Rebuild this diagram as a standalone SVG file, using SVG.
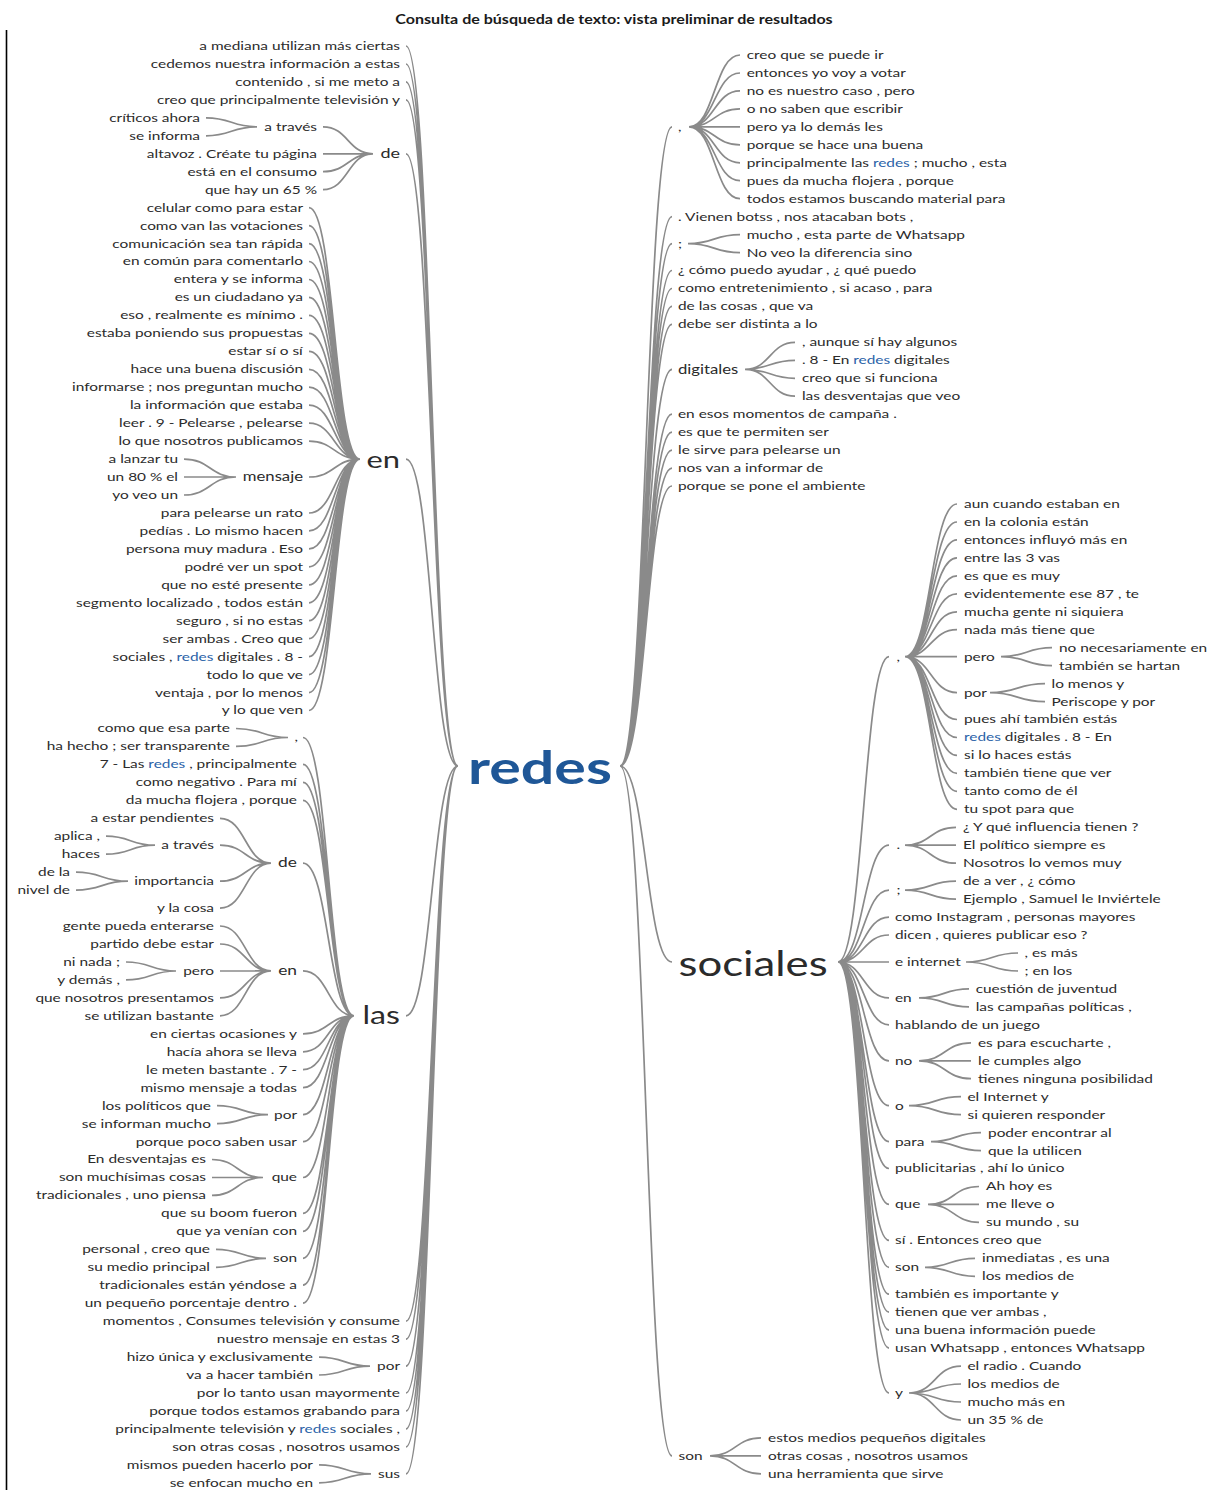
<svg xmlns="http://www.w3.org/2000/svg" width="1217" height="1490" viewBox="0 0 1217 1490">
<style>
.t{font-family:Lato,'Liberation Sans',sans-serif;font-size:12px;fill:#2b2b2b;transform-box:fill-box;transform:scaleX(1.285)}
.l{text-anchor:end;transform-origin:100% 50%}
.r{transform-origin:0% 50%}
.h{fill:#2a62a8}
.c path{fill:none;stroke:#8a8a8a;stroke-width:1.7}
.ttl{font-weight:bold;font-size:12.5px;fill:#1a1a1a;text-anchor:middle;transform-origin:50% 50%}
</style>
<rect width="1217" height="1490" fill="#fff"/>
<line x1="6.5" y1="30" x2="6.5" y2="1490" stroke="#000" stroke-width="1.6"/>
<text class="t ttl" x="614" y="24">Consulta de búsqueda de texto: vista preliminar de resultados</text>
<g id="connectors" class="c">
<path d="M406 46C432 46 432 766 458 766M406 64C432 64 432 766 458 766M406 81.9C432 81.9 432 766 458 766M406 99.9C432 99.9 432 766 458 766M406 153.8C432 153.8 432 766 458 766M406 459.1C432 459.1 432 766 458 766M406 1015.8C432 1015.8 432 766 458 766M406 1321.2C432 1321.2 432 766 458 766M406 1339.1C432 1339.1 432 766 458 766M406 1366.1C432 1366.1 432 766 458 766M406 1393C432 1393 432 766 458 766M406 1411C432 1411 432 766 458 766M406 1428.9C432 1428.9 432 766 458 766M406 1446.9C432 1446.9 432 766 458 766M406 1473.8C432 1473.8 432 766 458 766"/>
<path d="M323 126.8C348 126.8 348 153.8 373 153.8M323 153.8L373 153.8M323 171.7C348 171.7 348 153.8 373 153.8M323 189.7C348 189.7 348 153.8 373 153.8M206 117.8C231.5 117.8 231.5 126.8 257 126.8M206 135.8C231.5 135.8 231.5 126.8 257 126.8"/>
<path d="M309 207.6C334.5 207.6 334.5 459.1 360 459.1M309 225.6C334.5 225.6 334.5 459.1 360 459.1M309 243.6C334.5 243.6 334.5 459.1 360 459.1M309 261.5C334.5 261.5 334.5 459.1 360 459.1M309 279.5C334.5 279.5 334.5 459.1 360 459.1M309 297.4C334.5 297.4 334.5 459.1 360 459.1M309 315.4C334.5 315.4 334.5 459.1 360 459.1M309 333.4C334.5 333.4 334.5 459.1 360 459.1M309 351.3C334.5 351.3 334.5 459.1 360 459.1M309 369.3C334.5 369.3 334.5 459.1 360 459.1M309 387.2C334.5 387.2 334.5 459.1 360 459.1M309 405.2C334.5 405.2 334.5 459.1 360 459.1M309 423.2C334.5 423.2 334.5 459.1 360 459.1M309 441.1C334.5 441.1 334.5 459.1 360 459.1M309 477C334.5 477 334.5 459.1 360 459.1M309 513C334.5 513 334.5 459.1 360 459.1M309 530.9C334.5 530.9 334.5 459.1 360 459.1M309 548.9C334.5 548.9 334.5 459.1 360 459.1M309 566.8C334.5 566.8 334.5 459.1 360 459.1M309 584.8C334.5 584.8 334.5 459.1 360 459.1M309 602.8C334.5 602.8 334.5 459.1 360 459.1M309 620.7C334.5 620.7 334.5 459.1 360 459.1M309 638.7C334.5 638.7 334.5 459.1 360 459.1M309 656.6C334.5 656.6 334.5 459.1 360 459.1M309 674.6C334.5 674.6 334.5 459.1 360 459.1M309 692.6C334.5 692.6 334.5 459.1 360 459.1M309 710.5C334.5 710.5 334.5 459.1 360 459.1"/>
<path d="M184 459.1C210 459.1 210 477 236 477M184 477L236 477M184 495C210 495 210 477 236 477"/>
<path d="M303 737.5C328.5 737.5 328.5 1015.8 354 1015.8M303 764.4C328.5 764.4 328.5 1015.8 354 1015.8M303 782.4C328.5 782.4 328.5 1015.8 354 1015.8M303 800.3C328.5 800.3 328.5 1015.8 354 1015.8M303 863.2C328.5 863.2 328.5 1015.8 354 1015.8M303 970.9C328.5 970.9 328.5 1015.8 354 1015.8M303 1033.8C328.5 1033.8 328.5 1015.8 354 1015.8M303 1051.8C328.5 1051.8 328.5 1015.8 354 1015.8M303 1069.7C328.5 1069.7 328.5 1015.8 354 1015.8M303 1087.7C328.5 1087.7 328.5 1015.8 354 1015.8M303 1114.6C328.5 1114.6 328.5 1015.8 354 1015.8M303 1141.6C328.5 1141.6 328.5 1015.8 354 1015.8M303 1177.5C328.5 1177.5 328.5 1015.8 354 1015.8M303 1213.4C328.5 1213.4 328.5 1015.8 354 1015.8M303 1231.4C328.5 1231.4 328.5 1015.8 354 1015.8M303 1258.3C328.5 1258.3 328.5 1015.8 354 1015.8M303 1285.2C328.5 1285.2 328.5 1015.8 354 1015.8M303 1303.2C328.5 1303.2 328.5 1015.8 354 1015.8"/>
<path d="M236 728.5C262 728.5 262 737.5 288 737.5M236 746.4C262 746.4 262 737.5 288 737.5"/>
<path d="M220 818.3C245.5 818.3 245.5 863.2 271 863.2M220 845.2C245.5 845.2 245.5 863.2 271 863.2M220 881.2C245.5 881.2 245.5 863.2 271 863.2M220 908.1C245.5 908.1 245.5 863.2 271 863.2"/>
<path d="M106 836.2C130.5 836.2 130.5 845.2 155 845.2M106 854.2C130.5 854.2 130.5 845.2 155 845.2M76 872.2C102 872.2 102 881.2 128 881.2M76 890.1C102 890.1 102 881.2 128 881.2"/>
<path d="M220 926C245.5 926 245.5 970.9 271 970.9M220 944C245.5 944 245.5 970.9 271 970.9M220 971L271 970.9M220 997.9C245.5 997.9 245.5 970.9 271 970.9M220 1015.8C245.5 1015.8 245.5 970.9 271 970.9M126 962C151 962 151 971 176 971M126 979.9C151 979.9 151 971 176 971"/>
<path d="M217 1105.6C242.5 1105.6 242.5 1114.6 268 1114.6M217 1123.6C242.5 1123.6 242.5 1114.6 268 1114.6M212 1159.5C237.5 1159.5 237.5 1177.5 263 1177.5M212 1177.5L263 1177.5M212 1195.4C237.5 1195.4 237.5 1177.5 263 1177.5M216 1249.3C241 1249.3 241 1258.3 266 1258.3M216 1267.3C241 1267.3 241 1258.3 266 1258.3"/>
<path d="M319 1357.1C344.5 1357.1 344.5 1366.1 370 1366.1M319 1375C344.5 1375 344.5 1366.1 370 1366.1M319 1464.8C345 1464.8 345 1473.8 371 1473.8M319 1482.8C345 1482.8 345 1473.8 371 1473.8"/>
<path d="M620 766C646 766 646 126.8 672 126.8M620 766C646 766 646 216.6 672 216.6M620 766C646 766 646 243.6 672 243.6M620 766C646 766 646 270.5 672 270.5M620 766C646 766 646 288.5 672 288.5M620 766C646 766 646 306.4 672 306.4M620 766C646 766 646 324.4 672 324.4M620 766C646 766 646 369.3 672 369.3M620 766C646 766 646 414.2 672 414.2M620 766C646 766 646 432.2 672 432.2M620 766C646 766 646 450.1 672 450.1M620 766C646 766 646 468.1 672 468.1M620 766C646 766 646 486 672 486M620 766C646 766 646 962 672 962M620 766C646 766 646 1455.9 672 1455.9"/>
<path d="M689 126.8C714.5 126.8 714.5 55 740 55M689 126.8C714.5 126.8 714.5 73 740 73M689 126.8C714.5 126.8 714.5 90.9 740 90.9M689 126.8C714.5 126.8 714.5 108.9 740 108.9M689 126.8L740 126.8M689 126.8C714.5 126.8 714.5 144.8 740 144.8M689 126.8C714.5 126.8 714.5 162.8 740 162.8M689 126.8C714.5 126.8 714.5 180.7 740 180.7M689 126.8C714.5 126.8 714.5 198.7 740 198.7M688 243.6C714 243.6 714 234.6 740 234.6M688 243.6C714 243.6 714 252.6 740 252.6"/>
<path d="M745 369.3C770 369.3 770 342.4 795 342.4M745 369.3C770 369.3 770 360.3 795 360.3M745 369.3C770 369.3 770 378.3 795 378.3M745 369.3C770 369.3 770 396.2 795 396.2"/>
<path d="M838 962C863.5 962 863.5 656.7 889 656.7M838 962C863.5 962 863.5 845.2 889 845.2M838 962C863.5 962 863.5 890.1 889 890.1M838 962C863.5 962 863.5 917.1 889 917.1M838 962C863.5 962 863.5 935 889 935M838 962L889 962M838 962C863.5 962 863.5 997.9 889 997.9M838 962C863.5 962 863.5 1024.8 889 1024.8M838 962C863.5 962 863.5 1060.8 889 1060.8M838 962C863.5 962 863.5 1105.6 889 1105.6M838 962C863.5 962 863.5 1141.6 889 1141.6M838 962C863.5 962 863.5 1168.5 889 1168.5M838 962C863.5 962 863.5 1204.4 889 1204.4M838 962C863.5 962 863.5 1240.4 889 1240.4M838 962C863.5 962 863.5 1267.3 889 1267.3M838 962C863.5 962 863.5 1294.2 889 1294.2M838 962C863.5 962 863.5 1312.2 889 1312.2M838 962C863.5 962 863.5 1330.2 889 1330.2M838 962C863.5 962 863.5 1348.1 889 1348.1M838 962C863.5 962 863.5 1393 889 1393"/>
<path d="M905 656.7C931 656.7 931 504 957 504M905 656.7C931 656.7 931 522 957 522M905 656.7C931 656.7 931 539.9 957 539.9M905 656.7C931 656.7 931 557.9 957 557.9M905 656.7C931 656.7 931 575.8 957 575.8M905 656.7C931 656.7 931 593.8 957 593.8M905 656.7C931 656.7 931 611.8 957 611.8M905 656.7C931 656.7 931 629.7 957 629.7M905 656.7L957 656.7M905 656.7C931 656.7 931 692.6 957 692.6M905 656.7C931 656.7 931 719.5 957 719.5M905 656.7C931 656.7 931 737.5 957 737.5M905 656.7C931 656.7 931 755.4 957 755.4M905 656.7C931 656.7 931 773.4 957 773.4M905 656.7C931 656.7 931 791.4 957 791.4M905 656.7C931 656.7 931 809.3 957 809.3"/>
<path d="M1001 656.7C1026.5 656.7 1026.5 647.7 1052 647.7M1001 656.7C1026.5 656.7 1026.5 665.6 1052 665.6M990 692.6C1017.5 692.6 1017.5 683.6 1045 683.6M990 692.6C1017.5 692.6 1017.5 701.6 1045 701.6"/>
<path d="M905 845.2C930.5 845.2 930.5 827.3 956 827.3M905 845.2L956 845.2M905 845.2C930.5 845.2 930.5 863.2 956 863.2M905 890.1C930.5 890.1 930.5 881.2 956 881.2M905 890.1C930.5 890.1 930.5 899.1 956 899.1"/>
<path d="M966 962C992 962 992 953 1018 953M966 962C992 962 992 971 1018 971M919 997.9C944 997.9 944 988.9 969 988.9M919 997.9C944 997.9 944 1006.9 969 1006.9M919 1060.8C945 1060.8 945 1042.8 971 1042.8M919 1060.8L971 1060.8M919 1060.8C945 1060.8 945 1078.7 971 1078.7M909 1105.6C935 1105.6 935 1096.7 961 1096.7M909 1105.6C935 1105.6 935 1114.6 961 1114.6M931 1141.6C956 1141.6 956 1132.6 981 1132.6M931 1141.6C956 1141.6 956 1150.6 981 1150.6"/>
<path d="M928 1204.4C953.5 1204.4 953.5 1186.5 979 1186.5M928 1204.4L979 1204.4M928 1204.4C953.5 1204.4 953.5 1222.4 979 1222.4M925 1267.3C950 1267.3 950 1258.3 975 1258.3M925 1267.3C950 1267.3 950 1276.3 975 1276.3M909 1393C935 1393 935 1366.1 961 1366.1M909 1393C935 1393 935 1384 961 1384M909 1393C935 1393 935 1402 961 1402M909 1393C935 1393 935 1420 961 1420"/>
<path d="M710 1455.9C735.5 1455.9 735.5 1437.9 761 1437.9M710 1455.9L761 1455.9M710 1455.9C735.5 1455.9 735.5 1473.8 761 1473.8"/>
</g>
<g id="redes"><text class="t" x="540" y="784" style="font-size:46px;font-weight:bold;fill:#1f5797;text-anchor:middle;transform-origin:50% 50%">redes</text></g>
<g id="left">
<g id="L0"><text class="t l" x="400" y="50">a mediana utilizan más ciertas</text></g>
<g id="L1"><text class="t l" x="400" y="68">cedemos nuestra información a estas</text></g>
<g id="L2"><text class="t l" x="400" y="85.9">contenido , si me meto a</text></g>
<g id="L3"><text class="t l" x="400" y="103.9">creo que principalmente televisión y</text></g>
<g id="L4"><text class="t l" x="200" y="121.8">críticos ahora</text></g>
<g id="L5"><text class="t l" x="200" y="139.8">se informa</text></g>
<g id="L_at1"><text class="t l" x="317" y="130.8">a través</text></g>
<g id="L_de1"><text class="t l" x="400" y="158.5" style="font-size:14px">de</text></g>
<g id="L6"><text class="t l" x="317" y="157.8">altavoz . Créate tu página</text></g>
<g id="L7"><text class="t l" x="317" y="175.7">está en el consumo</text></g>
<g id="L8"><text class="t l" x="317" y="193.7">que hay un 65 %</text></g>
<g id="L9"><text class="t l" x="303" y="211.6">celular como para estar</text></g>
<g id="L10"><text class="t l" x="303" y="229.6">como van las votaciones</text></g>
<g id="L11"><text class="t l" x="303" y="247.6">comunicación sea tan rápida</text></g>
<g id="L12"><text class="t l" x="303" y="265.5">en común para comentarlo</text></g>
<g id="L13"><text class="t l" x="303" y="283.5">entera y se informa</text></g>
<g id="L14"><text class="t l" x="303" y="301.4">es un ciudadano ya</text></g>
<g id="L15"><text class="t l" x="303" y="319.4">eso , realmente es mínimo .</text></g>
<g id="L16"><text class="t l" x="303" y="337.4">estaba poniendo sus propuestas</text></g>
<g id="L17"><text class="t l" x="303" y="355.3">estar sí o sí</text></g>
<g id="L18"><text class="t l" x="303" y="373.3">hace una buena discusión</text></g>
<g id="L19"><text class="t l" x="303" y="391.2">informarse ; nos preguntan mucho</text></g>
<g id="L20"><text class="t l" x="303" y="409.2">la información que estaba</text></g>
<g id="L21"><text class="t l" x="303" y="427.2">leer . 9 - Pelearse , pelearse</text></g>
<g id="L22"><text class="t l" x="303" y="445.1">lo que nosotros publicamos</text></g>
<g id="L23"><text class="t l" x="178" y="463.1">a lanzar tu</text></g>
<g id="L_en1"><text class="t l" x="400" y="468" style="font-size:24px">en</text></g>
<g id="L24"><text class="t l" x="178" y="481">un 80 % el</text></g>
<g id="L_mensaje"><text class="t l" x="303" y="481.5" style="font-size:13px">mensaje</text></g>
<g id="L25"><text class="t l" x="178" y="499">yo veo un</text></g>
<g id="L26"><text class="t l" x="303" y="517">para pelearse un rato</text></g>
<g id="L27"><text class="t l" x="303" y="534.9">pedías . Lo mismo hacen</text></g>
<g id="L28"><text class="t l" x="303" y="552.9">persona muy madura . Eso</text></g>
<g id="L29"><text class="t l" x="303" y="570.8">podré ver un spot</text></g>
<g id="L30"><text class="t l" x="303" y="588.8">que no esté presente</text></g>
<g id="L31"><text class="t l" x="303" y="606.8">segmento localizado , todos están</text></g>
<g id="L32"><text class="t l" x="303" y="624.7">seguro , si no estas</text></g>
<g id="L33"><text class="t l" x="303" y="642.7">ser ambas . Creo que</text></g>
<g id="L34"><text class="t l" x="303" y="660.6">sociales , <tspan class="h">redes</tspan> digitales . 8 -</text></g>
<g id="L35"><text class="t l" x="303" y="678.6">todo lo que ve</text></g>
<g id="L36"><text class="t l" x="303" y="696.6">ventaja , por lo menos</text></g>
<g id="L37"><text class="t l" x="303" y="714.5">y lo que ven</text></g>
<g id="L38"><text class="t l" x="230" y="732.5">como que esa parte</text></g>
<g id="L39"><text class="t l" x="230" y="750.4">ha hecho ; ser transparente</text></g>
<g id="L_comma"><text class="t l" x="298" y="741.5">,</text></g>
<g id="L40"><text class="t l" x="297" y="768.4">7 - Las <tspan class="h">redes</tspan> , principalmente</text></g>
<g id="L41"><text class="t l" x="297" y="786.4">como negativo . Para mí</text></g>
<g id="L42"><text class="t l" x="297" y="804.3">da mucha flojera , porque</text></g>
<g id="L43"><text class="t l" x="214" y="822.3">a estar pendientes</text></g>
<g id="L44"><text class="t l" x="100" y="840.2">aplica ,</text></g>
<g id="L_at2"><text class="t l" x="214" y="849.2">a través</text></g>
<g id="L45"><text class="t l" x="100" y="858.2">haces</text></g>
<g id="L_de2"><text class="t l" x="297" y="867.5" style="font-size:13.5px">de</text></g>
<g id="L46"><text class="t l" x="70" y="876.2">de la</text></g>
<g id="L_imp"><text class="t l" x="214" y="885.2">importancia</text></g>
<g id="L47"><text class="t l" x="70" y="894.1">nivel de</text></g>
<g id="L48"><text class="t l" x="214" y="912.1">y la cosa</text></g>
<g id="L49"><text class="t l" x="214" y="930">gente pueda enterarse</text></g>
<g id="L50"><text class="t l" x="214" y="948">partido debe estar</text></g>
<g id="L51"><text class="t l" x="120" y="966">ni nada ;</text></g>
<g id="L_pero"><text class="t l" x="214" y="975">pero</text></g>
<g id="L_en2"><text class="t l" x="297" y="975.5" style="font-size:13.5px">en</text></g>
<g id="L52"><text class="t l" x="120" y="983.9">y demás ,</text></g>
<g id="L53"><text class="t l" x="214" y="1001.9">que nosotros presentamos</text></g>
<g id="L54"><text class="t l" x="214" y="1019.8">se utilizan bastante</text></g>
<g id="L_las"><text class="t l" x="400" y="1024" style="font-size:25px">las</text></g>
<g id="L55"><text class="t l" x="297" y="1037.8">en ciertas ocasiones y</text></g>
<g id="L56"><text class="t l" x="297" y="1055.8">hacía ahora se lleva</text></g>
<g id="L57"><text class="t l" x="297" y="1073.7">le meten bastante . 7 -</text></g>
<g id="L58"><text class="t l" x="297" y="1091.7">mismo mensaje a todas</text></g>
<g id="L59"><text class="t l" x="211" y="1109.6">los políticos que</text></g>
<g id="L_por1"><text class="t l" x="297" y="1118.6">por</text></g>
<g id="L60"><text class="t l" x="211" y="1127.6">se informan mucho</text></g>
<g id="L61"><text class="t l" x="297" y="1145.6">porque poco saben usar</text></g>
<g id="L62"><text class="t l" x="206" y="1163.5">En desventajas es</text></g>
<g id="L63"><text class="t l" x="206" y="1181.5">son muchísimas cosas</text></g>
<g id="L_que"><text class="t l" x="297" y="1181.5">que</text></g>
<g id="L64"><text class="t l" x="206" y="1199.4">tradicionales , uno piensa</text></g>
<g id="L65"><text class="t l" x="297" y="1217.4">que su boom fueron</text></g>
<g id="L66"><text class="t l" x="297" y="1235.4">que ya venían con</text></g>
<g id="L67"><text class="t l" x="210" y="1253.3">personal , creo que</text></g>
<g id="L_son"><text class="t l" x="297" y="1262.3">son</text></g>
<g id="L68"><text class="t l" x="210" y="1271.3">su medio principal</text></g>
<g id="L69"><text class="t l" x="297" y="1289.2">tradicionales están yéndose a</text></g>
<g id="L70"><text class="t l" x="297" y="1307.2">un pequeño porcentaje dentro .</text></g>
<g id="L71"><text class="t l" x="400" y="1325.2">momentos , Consumes televisión y consume</text></g>
<g id="L72"><text class="t l" x="400" y="1343.1">nuestro mensaje en estas 3</text></g>
<g id="L73"><text class="t l" x="313" y="1361.1">hizo única y exclusivamente</text></g>
<g id="L_por2"><text class="t l" x="400" y="1370.1">por</text></g>
<g id="L74"><text class="t l" x="313" y="1379">va a hacer también</text></g>
<g id="L75"><text class="t l" x="400" y="1397">por lo tanto usan mayormente</text></g>
<g id="L76"><text class="t l" x="400" y="1415">porque todos estamos grabando para</text></g>
<g id="L77"><text class="t l" x="400" y="1432.9">principalmente televisión y <tspan class="h">redes</tspan> sociales ,</text></g>
<g id="L78"><text class="t l" x="400" y="1450.9">son otras cosas , nosotros usamos</text></g>
<g id="L79"><text class="t l" x="313" y="1468.8">mismos pueden hacerlo por</text></g>
<g id="L_sus"><text class="t l" x="400" y="1477.8">sus</text></g>
<g id="L80"><text class="t l" x="313" y="1486.8">se enfocan mucho en</text></g>
</g>
<g id="right">
<g id="R_comma1"><text class="t r" x="678" y="130.8">,</text></g>
<g id="R0"><text class="t r" x="746.7" y="59">creo que se puede ir</text></g>
<g id="R1"><text class="t r" x="746.7" y="77">entonces yo voy a votar</text></g>
<g id="R2"><text class="t r" x="746.7" y="94.9">no es nuestro caso , pero</text></g>
<g id="R3"><text class="t r" x="746.7" y="112.9">o no saben que escribir</text></g>
<g id="R4"><text class="t r" x="746.7" y="130.8">pero ya lo demás les</text></g>
<g id="R5"><text class="t r" x="746.7" y="148.8">porque se hace una buena</text></g>
<g id="R6"><text class="t r" x="746.7" y="166.8">principalmente las <tspan class="h">redes</tspan> ; mucho , esta</text></g>
<g id="R7"><text class="t r" x="746.7" y="184.7">pues da mucha flojera , porque</text></g>
<g id="R8"><text class="t r" x="746.7" y="202.7">todos estamos buscando material para</text></g>
<g id="R9"><text class="t r" x="678" y="220.6">. Vienen botss , nos atacaban bots ,</text></g>
<g id="R10"><text class="t r" x="746.7" y="238.6">mucho , esta parte de Whatsapp</text></g>
<g id="R_semi1"><text class="t r" x="678" y="247.6">;</text></g>
<g id="R11"><text class="t r" x="746.7" y="256.6">No veo la diferencia sino</text></g>
<g id="R12"><text class="t r" x="678" y="274.5">¿ cómo puedo ayudar , ¿ qué puedo</text></g>
<g id="R13"><text class="t r" x="678" y="292.5">como entretenimiento , si acaso , para</text></g>
<g id="R14"><text class="t r" x="678" y="310.4">de las cosas , que va</text></g>
<g id="R15"><text class="t r" x="678" y="328.4">debe ser distinta a lo</text></g>
<g id="R16"><text class="t r" x="802" y="346.4">, aunque sí hay algunos</text></g>
<g id="R17"><text class="t r" x="802" y="364.3">. 8 - En <tspan class="h">redes</tspan> digitales</text></g>
<g id="R_dig"><text class="t r" x="678" y="374" style="font-size:13px">digitales</text></g>
<g id="R18"><text class="t r" x="802" y="382.3">creo que si funciona</text></g>
<g id="R19"><text class="t r" x="802" y="400.2">las desventajas que veo</text></g>
<g id="R20"><text class="t r" x="678" y="418.2">en esos momentos de campaña .</text></g>
<g id="R21"><text class="t r" x="678" y="436.2">es que te permiten ser</text></g>
<g id="R22"><text class="t r" x="678" y="454.1">le sirve para pelearse un</text></g>
<g id="R23"><text class="t r" x="678" y="472.1">nos van a informar de</text></g>
<g id="R24"><text class="t r" x="678" y="490">porque se pone el ambiente</text></g>
<g id="R25"><text class="t r" x="964" y="508">aun cuando estaban en</text></g>
<g id="R26"><text class="t r" x="964" y="526">en la colonia están</text></g>
<g id="R27"><text class="t r" x="964" y="543.9">entonces influyó más en</text></g>
<g id="R28"><text class="t r" x="964" y="561.9">entre las 3 vas</text></g>
<g id="R29"><text class="t r" x="964" y="579.8">es que es muy</text></g>
<g id="R30"><text class="t r" x="964" y="597.8">evidentemente ese 87 , te</text></g>
<g id="R31"><text class="t r" x="964" y="615.8">mucha gente ni siquiera</text></g>
<g id="R32"><text class="t r" x="964" y="633.7">nada más tiene que</text></g>
<g id="R33"><text class="t r" x="1059" y="651.7">no necesariamente en</text></g>
<g id="R_comma2"><text class="t r" x="896.5" y="660.7">,</text></g>
<g id="R_pero"><text class="t r" x="964" y="660.7">pero</text></g>
<g id="R34"><text class="t r" x="1059" y="669.6">también se hartan</text></g>
<g id="R35"><text class="t r" x="1051.5" y="687.6">lo menos y</text></g>
<g id="R_por"><text class="t r" x="964" y="696.6">por</text></g>
<g id="R36"><text class="t r" x="1051.5" y="705.6">Periscope y por</text></g>
<g id="R37"><text class="t r" x="964" y="723.5">pues ahí también estás</text></g>
<g id="R38"><text class="t r" x="964" y="741.5"><tspan class="h">redes</tspan> digitales . 8 - En</text></g>
<g id="R39"><text class="t r" x="964" y="759.4">si lo haces estás</text></g>
<g id="R40"><text class="t r" x="964" y="777.4">también tiene que ver</text></g>
<g id="R41"><text class="t r" x="964" y="795.4">tanto como de él</text></g>
<g id="R42"><text class="t r" x="964" y="813.3">tu spot para que</text></g>
<g id="R43"><text class="t r" x="963" y="831.3">¿ Y qué influencia tienen ?</text></g>
<g id="R44"><text class="t r" x="963" y="849.2">El político siempre es</text></g>
<g id="R_dot"><text class="t r" x="896.5" y="849.2">.</text></g>
<g id="R45"><text class="t r" x="963" y="867.2">Nosotros lo vemos muy</text></g>
<g id="R46"><text class="t r" x="963" y="885.2">de a ver , ¿ cómo</text></g>
<g id="R_semi2"><text class="t r" x="896.5" y="894.1">;</text></g>
<g id="R47"><text class="t r" x="963" y="903.1">Ejemplo , Samuel le Inviértele</text></g>
<g id="R48"><text class="t r" x="895" y="921.1">como Instagram , personas mayores</text></g>
<g id="R49"><text class="t r" x="895" y="939">dicen , quieres publicar eso ?</text></g>
<g id="R50"><text class="t r" x="1024.5" y="957">, es más</text></g>
<g id="R_einternet"><text class="t r" x="895" y="966">e internet</text></g>
<g id="R_sociales"><text class="t r" x="678.6" y="976" style="font-size:34px">sociales</text></g>
<g id="R51"><text class="t r" x="1024.5" y="975">; en los</text></g>
<g id="R52"><text class="t r" x="975.7" y="992.9">cuestión de juventud</text></g>
<g id="R_en"><text class="t r" x="895" y="1001.9">en</text></g>
<g id="R53"><text class="t r" x="975.7" y="1010.9">las campañas políticas ,</text></g>
<g id="R54"><text class="t r" x="895" y="1028.8">hablando de un juego</text></g>
<g id="R55"><text class="t r" x="978" y="1046.8">es para escucharte ,</text></g>
<g id="R56"><text class="t r" x="978" y="1064.8">le cumples algo</text></g>
<g id="R_no"><text class="t r" x="895" y="1064.8">no</text></g>
<g id="R57"><text class="t r" x="978" y="1082.7">tienes ninguna posibilidad</text></g>
<g id="R58"><text class="t r" x="967.5" y="1100.7">el Internet y</text></g>
<g id="R_o"><text class="t r" x="895" y="1109.6">o</text></g>
<g id="R59"><text class="t r" x="967.5" y="1118.6">si quieren responder</text></g>
<g id="R60"><text class="t r" x="988" y="1136.6">poder encontrar al</text></g>
<g id="R_para"><text class="t r" x="895" y="1145.6">para</text></g>
<g id="R61"><text class="t r" x="988" y="1154.6">que la utilicen</text></g>
<g id="R62"><text class="t r" x="895" y="1172.5">publicitarias , ahí lo único</text></g>
<g id="R63"><text class="t r" x="986" y="1190.5">Ah hoy es</text></g>
<g id="R64"><text class="t r" x="986" y="1208.4">me lleve o</text></g>
<g id="R_que"><text class="t r" x="895" y="1208.4">que</text></g>
<g id="R65"><text class="t r" x="986" y="1226.4">su mundo , su</text></g>
<g id="R66"><text class="t r" x="895" y="1244.4">sí . Entonces creo que</text></g>
<g id="R67"><text class="t r" x="982" y="1262.3">inmediatas , es una</text></g>
<g id="R_son"><text class="t r" x="895" y="1271.3">son</text></g>
<g id="R68"><text class="t r" x="982" y="1280.3">los medios de</text></g>
<g id="R69"><text class="t r" x="895" y="1298.2">también es importante y</text></g>
<g id="R70"><text class="t r" x="895" y="1316.2">tienen que ver ambas ,</text></g>
<g id="R71"><text class="t r" x="895" y="1334.2">una buena información puede</text></g>
<g id="R72"><text class="t r" x="895" y="1352.1">usan Whatsapp , entonces Whatsapp</text></g>
<g id="R73"><text class="t r" x="967.5" y="1370.1">el radio . Cuando</text></g>
<g id="R74"><text class="t r" x="967.5" y="1388">los medios de</text></g>
<g id="R_y"><text class="t r" x="895" y="1397">y</text></g>
<g id="R75"><text class="t r" x="967.5" y="1406">mucho más en</text></g>
<g id="R76"><text class="t r" x="967.5" y="1424">un 35 % de</text></g>
<g id="R77"><text class="t r" x="768" y="1441.9">estos medios pequeños digitales</text></g>
<g id="R_son2"><text class="t r" x="678.6" y="1459.9">son</text></g>
<g id="R78"><text class="t r" x="768" y="1459.9">otras cosas , nosotros usamos</text></g>
<g id="R79"><text class="t r" x="768" y="1477.8">una herramienta que sirve</text></g>
</g>
</svg>
